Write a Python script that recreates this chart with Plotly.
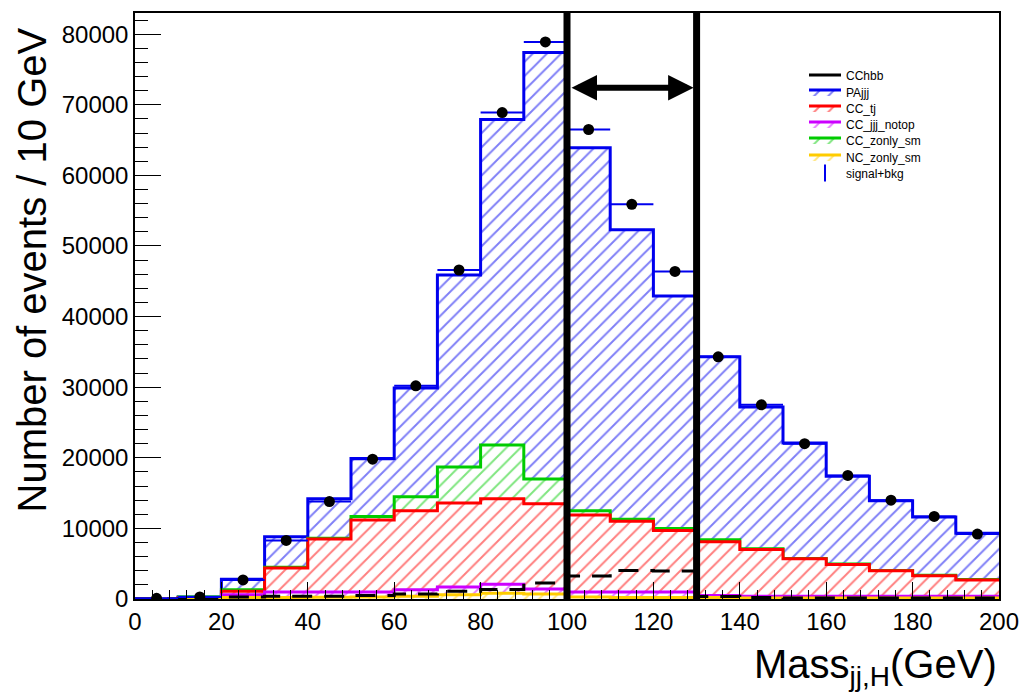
import numpy as np
import plotly.graph_objects as go

# ---------------- data ----------------
bin_edges = list(range(0, 201, 10))              # Mass_jj,H bins (GeV)
bin_centers = [e + 5 for e in bin_edges[:-1]]

# per-process contributions (events / 10 GeV); stacked in this order (bottom -> top)
NC_zonly_sm  = [0, 100, 200, 200, 250, 300, 400, 600, 800, 700, 300, 200, 200, 200, 150, 150, 150, 150, 150, 150]
CC_jjj_notop = [0, 50, 400, 800, 750, 700, 900, 1100, 1300, 700, 700, 800, 800, 300, 250, 250, 250, 250, 250, 250]
CC_tj        = [0, 50, 500, 3400, 7500, 10200, 11200, 11900, 12100, 12100, 10900, 10000, 8700, 7600, 6600, 5300, 4500, 3600, 2900, 2300]
CC_zonly_sm  = [0, 100, 200, 100, 100, 500, 2000, 5100, 7600, 3500, 600, 300, 300, 300, 100, 50, 50, 50, 50, 50]
PAjjj        = [0, 0, 1500, 4300, 5600, 8200, 15400, 27200, 46100, 60400, 51400, 41000, 32900, 25900, 20100, 16350, 12450, 9850, 8250, 6550]

# overlaid (not stacked) histogram
CChbb = [0, 100, 300, 400, 400, 500, 700, 1100, 1350, 2250, 3250, 4050, 3950, 350, 200, 150, 150, 150, 150, 150]

# signal+bkg points
signal_bkg = [100, 300, 2700, 8300, 13800, 19800, 30200, 46600, 68900, 78900, 66500, 55900, 46400, 34300, 27500, 22000, 17500, 14000, 11700, 9200]

mass_window = [100, 130]     # selected mass window
arrow_level = 72400

x_ticks = list(range(0, 201, 20))
y_ticks = list(range(0, 80001, 10000))

legend_names = ["CChbb", "PAjjj", "CC_tj", "CC_jjj_notop", "CC_zonly_sm", "NC_zonly_sm", "signal+bkg"]

# ---------------- figure ----------------
W, H = 1023, 694
ML, MR, MT, MB = 135, 24, 13, 95
PW, PH = W - ML - MR, H - MT - MB

def px_x(p):
    return (p - ML) / PW

def px_y(p):
    return (H - MB - p) / PH

FONT = "Liberation Sans, Arial, Helvetica, sans-serif"

order = [
    ("NC_zonly_sm", NC_zonly_sm, "#ffcc00"),
    ("CC_jjj_notop", CC_jjj_notop, "#cc00ff"),
    ("CC_tj", CC_tj, "#ff0000"),
    ("CC_zonly_sm", CC_zonly_sm, "#00cc00"),
    ("PAjjj", PAjjj, "#0000ee"),
]

def legend_id(name):
    k = legend_names.index(name)
    return "legend" if k == 0 else f"legend{k + 1}"

cum = np.cumsum(np.array([o[1] for o in order], dtype=float), axis=0)

fig = go.Figure()

# draw from top of stack (back) to bottom (front)
for i in reversed(range(len(order))):
    name, _, col = order[i]
    yv = list(cum[i]) + [cum[i][-1]]
    fig.add_trace(go.Scatter(
        x=bin_edges, y=yv, mode="lines", line=dict(color=col, width=3, shape="hv"),
        fill="tozeroy", fillcolor="white",
        fillpattern=dict(shape="/", fgcolor=col, bgcolor="white", size=10, solidity=0.2),
        name=name, legend=legend_id(name), showlegend=True,
    ))

# CChbb dashed overlay
fig.add_trace(go.Scatter(
    x=bin_edges, y=CChbb + [CChbb[-1]], mode="lines",
    line=dict(color="black", width=3, shape="hv", dash="20px,12px"),
    name="CChbb", showlegend=False,
))
# legend entry for CChbb (solid line as in the reference legend)
fig.add_trace(go.Scatter(
    x=[None], y=[None], mode="lines", line=dict(color="black", width=3),
    name="CChbb", legend=legend_id("CChbb"), showlegend=True,
))

# signal+bkg points
fig.add_trace(go.Scatter(
    x=bin_centers, y=signal_bkg, mode="markers",
    marker=dict(color="black", size=11, symbol="circle"),
    error_x=dict(type="constant", value=5, color="#0000ee", thickness=2, width=0),
    name="signal+bkg", showlegend=False,
))
fig.add_trace(go.Scatter(
    x=[None], y=[None], mode="markers",
    marker=dict(symbol="line-ns", size=12, line=dict(color="#0000ee", width=2)),
    name="signal+bkg", legend=legend_id("signal+bkg"), showlegend=True,
))

# mass-window lines and arrow
for xv in mass_window:
    fig.add_shape(type="line", xref="x", yref="paper", x0=xv, x1=xv, y0=0, y1=1,
                  line=dict(color="black", width=7), layer="above")

fig.add_annotation(
    x=mass_window[1], y=arrow_level, ax=mass_window[0], ay=arrow_level,
    xref="x", yref="y", axref="x", ayref="y", text="", showarrow=True,
    arrowhead=2, startarrowhead=2, arrowside="end+start",
    arrowwidth=6, arrowsize=0.85, startarrowsize=0.85,
    arrowcolor="black", standoff=3, startstandoff=3,
)

# axis titles
fig.add_annotation(
    text="Mass<sub>jj,H</sub>(GeV)", xref="paper", yref="paper",
    x=px_x(999), y=px_y(694), xanchor="right", yanchor="bottom",
    showarrow=False, font=dict(family=FONT, size=40, color="black"),
)
fig.add_annotation(
    text="Number of events / 10 GeV", xref="paper", yref="paper",
    x=px_x(31), y=px_y(26), xanchor="center", yanchor="top", textangle=-90,
    showarrow=False, font=dict(family=FONT, size=40, color="black"),
)

legend_rows = [75, 92, 108, 124, 140, 157, 173]
legends = {}
for k, row in enumerate(legend_rows):
    key = "legend" if k == 0 else f"legend{k + 1}"
    legends[key] = dict(
        x=px_x(804), y=px_y(row), xanchor="left", yanchor="middle",
        bgcolor="rgba(0,0,0,0)", borderwidth=0,
        font=dict(family=FONT, size=12, color="black"),
        itemwidth=32,
    )

fig.update_layout(
    width=W, height=H,
    margin=dict(l=ML, r=MR, t=MT, b=MB, autoexpand=False),
    paper_bgcolor="white", plot_bgcolor="white",
    font=dict(family=FONT, color="black"),
    showlegend=True,
    **legends,
    xaxis=dict(
        range=[0, 200], tickvals=x_ticks, ticktext=[str(v) for v in x_ticks],
        ticks="inside", ticklen=17, tickwidth=1, tickcolor="black",
        minor=dict(ticks="inside", dtick=4, ticklen=9, tickcolor="black"),
        showline=True, linecolor="black", linewidth=1.5, mirror=True,
        showgrid=False, zeroline=False, automargin=False,
        tickfont=dict(family=FONT, size=24, color="black"),
    ),
    yaxis=dict(
        range=[0, 83000], tickvals=y_ticks, ticktext=[str(v) for v in y_ticks],
        ticks="inside", ticklen=26, tickwidth=1, tickcolor="black",
        minor=dict(ticks="inside", dtick=2000, ticklen=13, tickcolor="black"),
        showline=True, linecolor="black", linewidth=1.5, mirror=True,
        showgrid=False, zeroline=False, automargin=False,
        tickfont=dict(family=FONT, size=24, color="black"),
    ),
)

fig.write_html("out.html", config={"displayModeBar": False},
               post_script="document.body.style.margin='0px';")
